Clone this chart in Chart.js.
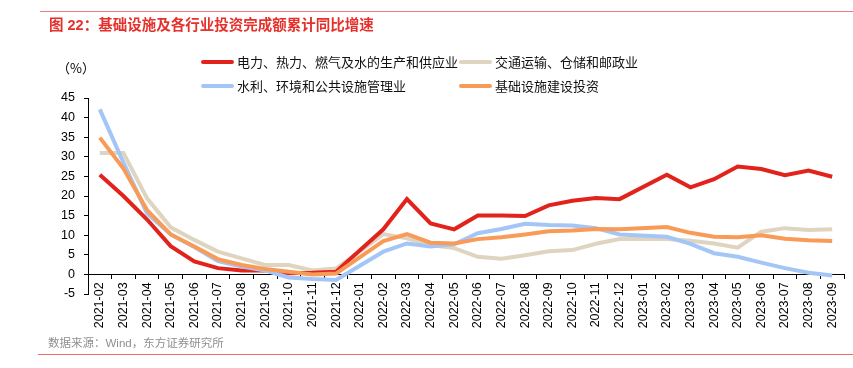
<!DOCTYPE html>
<html>
<head>
<meta charset="utf-8">
<script src="https://cdn.jsdelivr.net/npm/chart.js@4"></script>
<style>
    body { margin: 0; background: #fff; }
    #wrap { position: relative; width: 853px; height: 368px; overflow: hidden; font-family: "Liberation Sans", "Noto Sans CJK SC", sans-serif; }
    #chart { position: absolute; left: 0; top: 0; }
    .rule { position: absolute; height: 1px; }
    .txt { position: absolute; white-space: nowrap; font-family: "Liberation Sans", "Noto Sans CJK SC", sans-serif; }
    .key { position: absolute; height: 4px; width: 33px; border-radius: 2px; }
</style>
</head>
<body>
<div id="wrap">
    <canvas id="chart" width="853" height="368"></canvas>
    <div class="rule" style="left:40px; top:11px; width:813px; background:#f07a7a;"></div>
    <div class="txt" style="left:49px; top:13px; font-size:14.5px; font-weight:bold; color:#e5302b;">图 22：基础设施及各行业投资完成额累计同比增速</div>
    <div class="txt" style="left:57px; top:58px; font-size:13px; color:#000; font-family:'Noto Sans CJK SC', sans-serif;">（%）</div>
    <div id="legend"></div>
    <div class="txt" style="left:48px; top:334px; font-size:11.5px; color:#8f8f8f;">数据来源：Wind，东方证券研究所</div>
    <div class="rule" style="left:38px; top:354px; width:815px; background:#f06a6a;"></div>
</div>
<script>
    // --- Chart data ---
    const months = [
        '2021-02', '2021-03', '2021-04', '2021-05', '2021-06', '2021-07', '2021-08', '2021-09', '2021-10', '2021-11', '2021-12',
        '2022-01', '2022-02', '2022-03', '2022-04', '2022-05', '2022-06', '2022-07', '2022-08', '2022-09', '2022-10', '2022-11', '2022-12',
        '2023-01', '2023-02', '2023-03', '2023-04', '2023-05', '2023-06', '2023-07', '2023-08', '2023-09'
    ];
    const utilities = [
        25.4, 20.0, 14.0, 7.2, 3.3, 1.6, 1.0, 1.0, 0.3, 0.4, 0.7,
        null, 11.5, 19.2, 13.0, 11.5, 15.0, 15.0, 14.9, 17.6, 18.8, 19.5, 19.2,
        null, 25.4, 22.2, 24.3, 27.5, 26.9, 25.3, 26.5, 24.9
    ];
    const transport = [
        31.0, 31.0, 19.4, 12.0, 8.8, 5.8, 4.1, 2.4, 2.4, 1.0, 1.5,
        null, 10.3, 9.2, 7.5, 6.7, 4.5, 4.0, 4.9, 5.9, 6.2, 7.8, 9.0,
        null, 9.0, 8.6, 7.9, 6.8, 10.9, 11.8, 11.3, 11.5
    ];
    const waterEnv = [
        42.1, 28.5, 15.5, 10.2, 7.0, 3.4, 2.0, 1.0, -0.8, -1.2, -1.4,
        null, 5.8, 7.9, 7.1, 7.7, 10.5, 11.6, 12.9, 12.6, 12.5, 11.8, 10.2,
        null, 9.6, 7.8, 5.4, 4.5, 3.0, 1.6, 0.4, -0.3
    ];
    const infra = [
        34.9, 27.0, 16.4, 10.2, 7.1, 3.9, 2.4, 1.4, 0.7, 0.0, 0.2,
        null, 8.5, 10.3, 8.1, 7.9, 9.0, 9.5, 10.2, 11.0, 11.2, 11.6, 11.5,
        null, 12.1, 10.6, 9.6, 9.5, 10.0, 9.1, 8.7, 8.5
    ];
    const yTicks = { min: -5, max: 45, step: 5 };

    const series = [
        { label: '电力、热力、燃气及水的生产和供应业', data: utilities, color: '#e2231c', order: 2, left: 201, top: 60 },
        { label: '交通运输、仓储和邮政业', data: transport, color: '#ded4bf', order: 3, left: 459, top: 60 },
        { label: '水利、环境和公共设施管理业', data: waterEnv, color: '#a3c6f7', order: 1, left: 201, top: 84 },
        { label: '基础设施建设投资', data: infra, color: '#f99b58', order: 0, left: 459, top: 84 }
    ];

    // --- Legend (two columns, like the original) ---
    const legendEl = document.getElementById('legend');
    series.forEach(s => {
        const key = document.createElement('div');
        key.className = 'key';
        key.style.left = s.left + 'px';
        key.style.top = s.top + 'px';
        key.style.background = s.color;
        legendEl.appendChild(key);

        const txt = document.createElement('div');
        txt.className = 'txt';
        txt.style.left = (s.left + 36) + 'px';
        txt.style.top = (s.top - 8) + 'px';
        txt.style.fontSize = '13px';
        txt.style.color = '#111';
        txt.textContent = s.label;
        legendEl.appendChild(txt);
    });

    const tickFont = { family: '"Liberation Sans", Arial, sans-serif', size: 12.5 };

    new Chart(document.getElementById('chart').getContext('2d'), {
        type: 'line',
        data: {
            labels: months,
            datasets: series.map(s => ({
                label: s.label,
                data: s.data,
                borderColor: s.color,
                backgroundColor: s.color,
                borderWidth: 4,
                pointRadius: 0,
                tension: 0,
                spanGaps: true,
                order: s.order
            }))
        },
        options: {
            responsive: false,
            animation: false,
            devicePixelRatio: 1,
            layout: { padding: { left: 48, top: 98, right: 9, bottom: 74 } },
            plugins: { legend: { display: false }, tooltip: { enabled: false } },
            scales: {
                x: {
                    position: { y: 0 },
                    offset: true,
                    grid: { offset: true, drawOnChartArea: false, tickLength: 4, color: '#000' },
                    border: { color: '#000' },
                    ticks: { autoSkip: false, minRotation: 90, maxRotation: 90, color: '#000', font: tickFont, padding: 4 }
                },
                y: {
                    min: yTicks.min,
                    max: yTicks.max,
                    grid: { drawOnChartArea: false, tickLength: 4, color: '#000' },
                    border: { color: '#000' },
                    ticks: { stepSize: yTicks.step, color: '#000', font: tickFont, padding: 9 },
                    afterFit: (scale) => { scale.width = 40; }
                }
            }
        }
    });
</script>
</body>
</html>
